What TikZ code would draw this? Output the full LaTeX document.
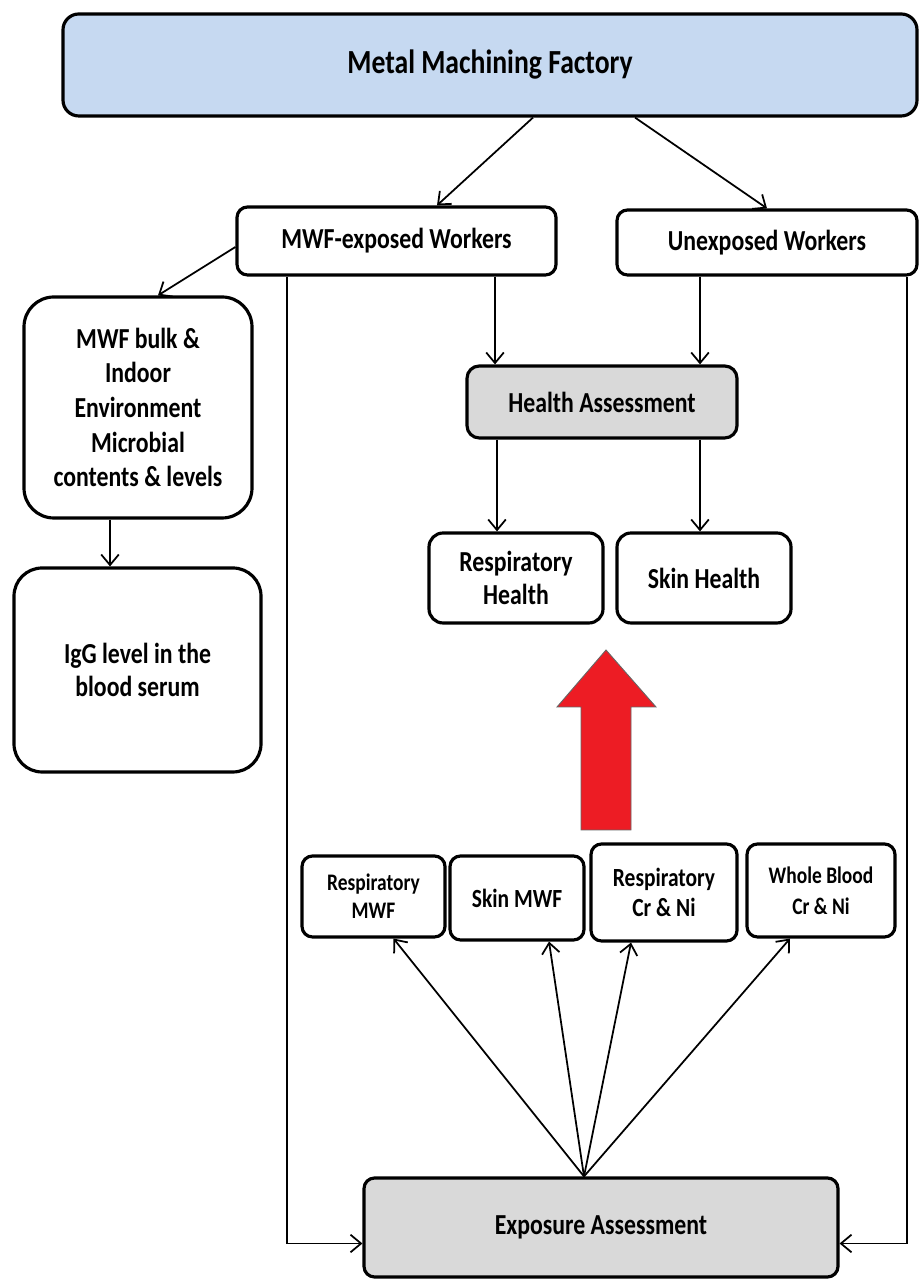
\documentclass[tikz,border=0pt]{standalone}
\usepackage{fontspec}
\setmainfont{Carlito}[FakeStretch=0.82]
\usetikzlibrary{arrows.meta}

\definecolor{factoryblue}{RGB}{198,217,241}
\definecolor{assessgray}{RGB}{217,217,217}
\definecolor{bigred}{RGB}{237,28,36}

\tikzset{
	box/.style={draw,rectangle,line width=1.8pt,rounded corners=6pt,align=center,inner sep=0pt,font=\bfseries\fontsize{16.5}{19}\selectfont},
	arr/.style={-{Straight Barb[length=6pt,width=10pt]},line width=1pt}
}

\begin{document}
\begin{tikzpicture}
		\useasboundingbox (0,0) rectangle (18.38,25.58);

		\node[box,fill=factoryblue,rounded corners=9pt,minimum width=17.08cm,minimum height=2.04cm,font=\bfseries\fontsize{19.2}{22}\selectfont] at (9.80,24.28) (factory) {Metal Machining Factory};
		\node[box,minimum width=6.38cm,minimum height=1.36cm] at (7.93,20.76) (mwf) {MWF-exposed Workers};
		\node[box,minimum width=6.0cm,minimum height=1.3cm] at (15.34,20.73) (unexp) {Unexposed Workers};

		\node[box,rounded corners=17pt,minimum width=4.56cm,minimum height=4.42cm,font=\bfseries\fontsize{16.5}{19.7}\selectfont] at (2.76,17.43) (bulk) {MWF bulk \&\\ Indoor\\ Environment\\ Microbial\\ contents \& levels};
		\node[box,rounded corners=16pt,minimum width=4.94cm,minimum height=4.08cm] at (2.75,12.18) (igg) {IgG level in the\\ blood serum};

		\node[box,fill=assessgray,rounded corners=7pt,minimum width=5.4cm,minimum height=1.44cm] at (12.04,17.54) (health) {Health Assessment};
		\node[box,rounded corners=8pt,minimum width=3.48cm,minimum height=1.8cm] at (10.32,14.02) (resph) {Respiratory\\ Health};
		\node[box,rounded corners=8pt,minimum width=3.48cm,minimum height=1.8cm] at (14.08,14.02) (skinh) {Skin Health};

		% big red arrow
		\draw[fill=bigred,draw=black!60,line width=0.5pt] (11.62,8.98) -- (11.62,11.44) -- (11.14,11.44) -- (12.12,12.58) -- (13.12,11.44) -- (12.62,11.44) -- (12.62,8.98) -- cycle;

		\node[box,minimum width=2.86cm,minimum height=1.62cm,font=\bfseries\fontsize{13.5}{15.9}\selectfont] at (7.47,7.65) (respmwf) {Respiratory\\ MWF};
		\node[box,minimum width=2.68cm,minimum height=1.68cm,font=\bfseries\fontsize{14.9}{16.4}\selectfont] at (10.34,7.62) (skinmwf) {Skin MWF};
		\node[box,minimum width=2.92cm,minimum height=1.94cm,font=\bfseries\fontsize{14.9}{16.6}\selectfont] at (13.28,7.73) (respcr) {Respiratory\\ Cr \& Ni};
		\node[box,minimum width=2.96cm,minimum height=1.86cm,font=\bfseries\fontsize{13.5}{17.4}\selectfont] at (16.42,7.77) (blood) {Whole Blood\\ Cr \& Ni};

		\node[box,fill=assessgray,minimum width=9.48cm,minimum height=1.98cm] at (12.02,1.03) (expo) {Exposure Assessment};

		\coordinate (m1) at ([xshift=1.97cm]mwf.south);
		\coordinate (m2) at ([xshift=-2.19cm]mwf.south);
		\coordinate (u1) at ([xshift=-1.34cm]unexp.south);
		\coordinate (u2) at ([xshift=2.8cm]unexp.south);
		\coordinate (b1) at ([xshift=-0.56cm]bulk.south);
		\coordinate (h1) at ([xshift=-0.38cm]resph.north);
		\coordinate (h2) at ([xshift=-0.08cm]skinh.north);
		\coordinate (e1) at ([xshift=-0.34cm]expo.north);

		\draw[arr] ([xshift=0.86cm]factory.south) -- ([xshift=0.81cm]mwf.north);
		\draw[arr] ([xshift=2.9cm]factory.south) -- (unexp.north);
		\draw[arr] ([yshift=-0.12cm]mwf.west) -- ([xshift=0.4cm]bulk.north);
		\draw[arr] (b1) -- (b1 |- igg.north);

		\draw[arr] (m1) -- (m1 |- health.north);
		\draw[arr] (u1) -- (u1 |- health.north);
		\draw[arr] (h1 |- health.south) -- (h1);
		\draw[arr] (h2 |- health.south) -- (h2);

		\draw[arr] (m2) |- ([yshift=-0.32cm]expo.west);
		\draw[arr] (u2) |- ([yshift=-0.32cm]expo.east);

		\draw[arr] (e1) -- ([xshift=0.4cm]respmwf.south);
		\draw[arr] (e1) -- ([xshift=0.64cm]skinmwf.south);
		\draw[arr] (e1) -- ([xshift=-0.66cm]respcr.south);
		\draw[arr] (e1) -- ([xshift=-0.62cm]blood.south);
	\end{tikzpicture}
\end{document}
